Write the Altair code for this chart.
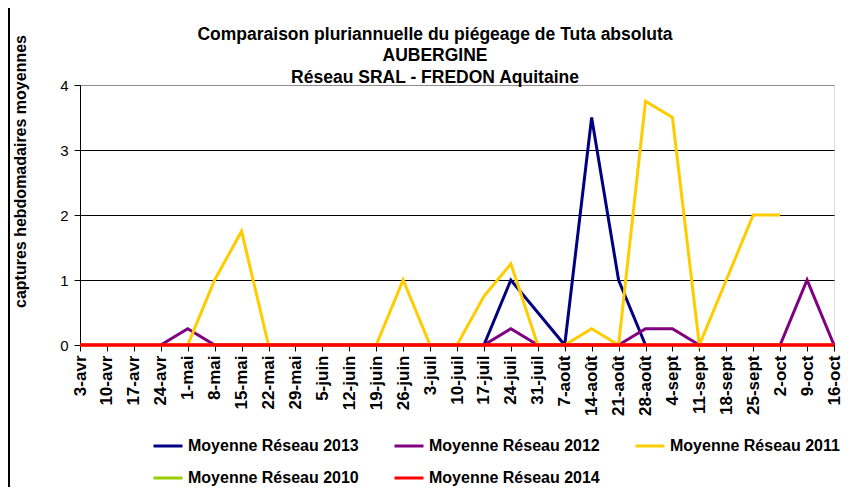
import altair as alt
import pandas as pd

weeks = ["3-avr", "10-avr", "17-avr", "24-avr", "1-mai", "8-mai", "15-mai", "22-mai",
         "29-mai", "5-juin", "12-juin", "19-juin", "26-juin", "3-juil", "10-juil",
         "17-juil", "24-juil", "31-juil", "7-août", "14-août", "21-août", "28-août",
         "4-sept", "11-sept", "18-sept", "25-sept", "2-oct", "9-oct", "16-oct"]

N = None
s2013 = [N, N, N, N, N, N, N, N, N, N, N, N, N, N, N,
         0, 1, 0.5, 0, 3.5, 1, 0, N, N, N, N, N, N, N]
s2012 = [N, N, N, 0, 0.25, 0, 0, 0, 0, 0, 0, 0, 0, 0, 0,
         0, 0.25, 0, 0, 0, 0, 0.25, 0.25, 0, 0, 0, 0, 1, 0]
s2011 = [N, N, N, N, 0, 1, 1.75, 0, 0, 0, 0, 0, 1, 0, 0,
         0.75, 1.25, 0, 0, 0.25, 0, 3.75, 3.5, 0, 1, 2, 2, N, N]
s2010 = [0] * 29
s2014 = [0] * 29

series_names = ["Moyenne Réseau 2013", "Moyenne Réseau 2012", "Moyenne Réseau 2011",
                "Moyenne Réseau 2010", "Moyenne Réseau 2014"]
series_values = [s2013, s2012, s2011, s2010, s2014]
colors = ["#000080", "#800080", "#FFCC00", "#99CC00", "#FF0000"]

rows = []
for name, vals in zip(series_names, series_values):
    for w, v in zip(weeks, vals):
        if v is not None:
            rows.append({"semaine": w, "valeur": v, "serie": name})
df = pd.DataFrame(rows)

FONT = "Liberation Sans"

x_enc = alt.X(
    "semaine:N", sort=weeks,
    scale=alt.Scale(type="point", padding=0),
    axis=alt.Axis(title=None, labelAngle=270, labelAlign="right", labelBaseline="middle",
                  labelFont=FONT, labelFontSize=17, labelFontWeight="bold",
                  labelColor="black", labelPadding=4, tickSize=6, tickColor="black",
                  domainColor="black", labelOverlap=False, grid=False),
)
y_enc = alt.Y(
    "valeur:Q",
    scale=alt.Scale(domain=[0, 4], nice=False),
    axis=alt.Axis(values=[0, 1, 2, 3, 4], format="d",
                  title="captures hebdomadaires moyennes", titleFont=FONT,
                  titleFontSize=16, titleFontWeight="bold", titleColor="black",
                  titleAngle=270, titleX=-60, titleY=86, titleAlign="center",
                  titleBaseline="middle",
                  labelFont=FONT, labelFontSize=15, labelColor="black", labelPadding=6,
                  tickSize=6, tickColor="black", domainColor="black",
                  gridColor={"condition": {"test": "datum.value === 4", "value": "#8c8c8c"},
                             "value": "black"},
                  gridWidth=1),
)
color_enc = alt.Color(
    "serie:N",
    scale=alt.Scale(domain=series_names, range=colors),
    legend=alt.Legend(title=None, orient="none", legendX=72, legendY=345,
                      direction="horizontal", columns=3, symbolType="stroke",
                      symbolSize=841, symbolStrokeWidth=3, labelFont=FONT,
                      labelFontSize=16, labelFontWeight="bold", labelColor="black",
                      labelOffset=4, columnPadding=29, rowPadding=8, labelLimit=400,
                      padding=0),
)

layers = []
for name in series_names:
    layers.append(
        alt.Chart(df).transform_filter(alt.datum.serie == name)
        .mark_line(strokeWidth=3.5 if name.endswith("2014") else 3)
        .encode(x=x_enc, y=y_enc, color=color_enc)
    )

border = alt.Chart(df).mark_rule(color="black", strokeWidth=1.5, clip=False).encode(
    x=alt.value(-71), y=alt.value(-85), y2=alt.value(420)
)

chart = alt.layer(*layers, border).properties(
    width=754, height=260,
    autosize=alt.AutoSizeParams(type="none"),
    padding={"left": 72, "top": 77, "right": 8, "bottom": 142},
    title=alt.TitleParams(
        text=["Comparaison pluriannuelle du piégeage de Tuta absoluta", "AUBERGINE",
              "Réseau SRAL - FREDON Aquitaine"],
        font=FONT, fontSize=17.5, fontWeight="bold", color="black", lineHeight=21.5,
        anchor="middle", dx=-22, dy=91, offset=4,
    ),
).configure_view(stroke="#8c8c8c", strokeWidth=1).configure(background="white")

chart.save("out.html", embed_options={"renderer": "svg", "actions": False})
